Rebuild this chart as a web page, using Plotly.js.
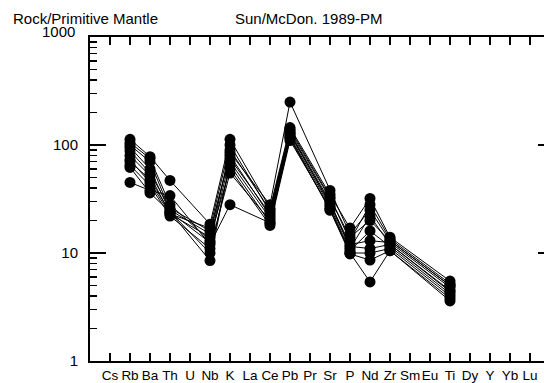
<!DOCTYPE html>
<html>
<head>
<meta charset="utf-8">
<script src="https://cdn.plot.ly/plotly-3.0.1.min.js"></script>
<style>
html,body{margin:0;padding:0;overflow:hidden;background:#fff;width:544px;height:383px;}
#chart{width:570px;height:383px;}
</style>
</head>
<body>
<div id="chart"></div>
<script>
const elements = ["Cs","Rb","Ba","Th","U","Nb","K","La","Ce","Pb","Pr","Sr","P","Nd","Zr","Sm","Eu","Ti","Dy","Y","Yb","Lu"];
// values per sample, null = not analysed (order follows elements)
const s1  = [null,100,70,25,null,15,85,null,28,250,null,38,15,25,13,null,null,5.0,null,null,null,null];
const s2  = [null,113,78,47,null,18.5,113,null,26,145,null,35,17,32,14,null,null,5.5,null,null,null,null];
const s3  = [null,45,38,34,null,12,28,null,19,115,null,25,10,5.4,10.5,null,null,3.6,null,null,null,null];
const s4  = [null,95,60,24,null,8.5,70,null,21,130,null,30,11,22,12,null,null,4.5,null,null,null,null];
const s5  = [null,80,52,23,null,17,100,null,24,140,null,33,13,28,13.5,null,null,5.2,null,null,null,null];
const s6  = [null,73,45,23,null,14,60,null,18,110,null,26,10,10,11,null,null,4.0,null,null,null,null];
const s7  = [null,65,42,22,null,11,55,null,20,120,null,27,10.5,16,11.5,null,null,4.2,null,null,null,null];
const s8  = [null,88,55,26,null,16,80,null,22,125,null,29,12,13,12.5,null,null,4.8,null,null,null,null];
const s9  = [null,62,36,24,null,10,65,null,19,118,null,25,9.8,8.6,10.5,null,null,3.8,null,null,null,null];
const s10 = [null,105,75,28,null,13,90,null,25,135,null,32,14,20,13,null,null,5.0,null,null,null,null];
const s11 = [null,70,48,24,null,12.5,75,null,23,128,null,28,11.5,11,12,null,null,4.4,null,null,null,null];
const samples = [s1,s2,s3,s4,s5,s6,s7,s8,s9,s10,s11];

const yMajor = [1,10,100,1000];
const yMajorText = ["1","10","100",""];

const xIdx = elements.map((e,i)=>i);
const traces = samples.map(s => ({
  x: xIdx, y: s, type: 'scatter', mode: 'lines+markers',
  connectgaps: true,
  line: {color: '#000', width: 1},
  marker: {color: '#000', size: 11, symbol: 'circle'},
  hoverinfo: 'skip', showlegend: false
}));

const minorVals = [];
[1,10,100].forEach(d => { for (let k=2;k<=9;k++) minorVals.push(k*d); });

const font = {family: '"Liberation Sans", Arial, Helvetica, sans-serif', color: '#000'};

const layout = {
  width: 570, height: 383,
  margin: {l: 90, r: 16, t: 37, b: 22, pad: 0},
  paper_bgcolor: '#fff', plot_bgcolor: '#fff',
  font: Object.assign({size: 13}, font),
  showlegend: false,
  xaxis: {
    range: [-1, 22.2], tickmode: 'array', tickvals: xIdx, ticktext: elements,
    tickangle: 0,
    ticks: 'inside', ticklen: 8, tickwidth: 1.5, tickcolor: '#000',
    showline: true, linewidth: 2, linecolor: '#000', mirror: 'ticks',
    showgrid: false, zeroline: false,
    tickfont: Object.assign({size: 13.5}, font), ticklabelstandoff: 1
  },
  yaxis: {
    type: 'log', range: [0, 3], tickmode: 'array', tickvals: yMajor, ticktext: yMajorText,
    ticks: 'inside', ticklen: 16, tickwidth: 1.5, tickcolor: '#000',
    minor: {tickmode: 'array', tickvals: minorVals, ticks: 'inside', ticklen: 7, tickwidth: 1.5, tickcolor: '#000', showgrid: false},
    showline: true, linewidth: 2, linecolor: '#000', mirror: 'ticks',
    showgrid: false, zeroline: false,
    tickfont: Object.assign({size: 15}, font), ticklabelstandoff: 7
  },
  annotations: [
    {xref: 'paper', yref: 'paper', x: 0, y: 1, xshift: -79, yshift: 19, xanchor: 'left', yanchor: 'middle',
     text: 'Rock/Primitive Mantle', showarrow: false, font: Object.assign({size: 15}, font)},
    {xref: 'paper', yref: 'paper', x: 0, y: 1, xshift: 143, yshift: 19, xanchor: 'left', yanchor: 'middle',
     text: 'Sun/McDon. 1989-PM', showarrow: false, font: Object.assign({size: 15}, font)},
    {xref: 'paper', yref: 'paper', x: 0, y: 1, xshift: -13, yshift: 6, xanchor: 'right', yanchor: 'middle',
     text: '1000', showarrow: false, font: Object.assign({size: 15}, font)}
  ]
};

Plotly.newPlot('chart', traces, layout, {staticPlot: true, displayModeBar: false});
</script>
</body>
</html>
